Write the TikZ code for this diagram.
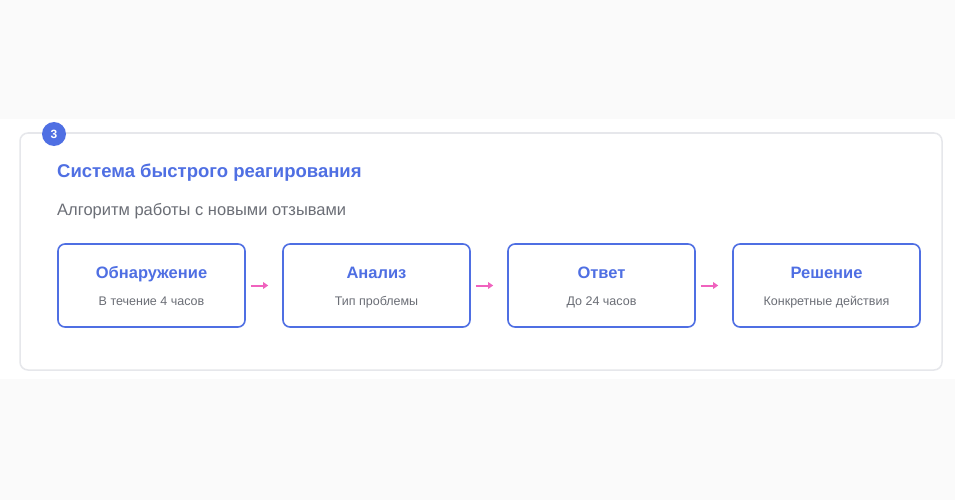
\documentclass[tikz,border=0pt]{standalone}
\usepackage{fontspec}
\setmainfont{Liberation Sans}
\usepackage{tikz}
\usetikzlibrary{positioning}
\usetikzlibrary{arrows.meta}
\usepackage{xcolor}
\definecolor{pagegray}{HTML}{FAFAFA}
\definecolor{cardline}{HTML}{E6E7EB}
\definecolor{stepblue}{HTML}{4F6FE3}
\definecolor{textgray}{HTML}{6B6E76}
\definecolor{arrowpink}{HTML}{F062BE}
\tikzset{
  stepbox/.style={draw=stepblue, line width=1.6pt, rounded corners=7pt, fill=white,
    minimum width=187pt, minimum height=83pt, inner sep=0pt},
  steptitle/.style={anchor=base, text=stepblue, font=\fontsize{16.5}{19}\selectfont\bfseries, inner sep=0pt},
  stepnote/.style={anchor=base, text=textgray, font=\fontsize{12.5}{15}\selectfont, inner sep=0pt},
  flow/.style={arrowpink, line width=2pt, -{Triangle[length=5pt,width=6.5pt]}, shorten <=5pt, shorten >=14pt}
}

\begin{document}
\begin{tikzpicture}[x=1pt, y=-1pt]
	    		\fill[pagegray] (0, 0) rectangle (955, 500);
	    		\fill[white] (0, 119) rectangle (955, 379);
	    		\draw[cardline, line width=1.5pt, rounded corners=8pt] (20, 133) rectangle (942, 370);
	    		\node[circle, fill=stepblue, minimum size=24pt, inner sep=0pt, text=white, font=\fontsize{12}{13}\selectfont\bfseries] (badge) at (54, 134) {3};
	    		\node[anchor=base west, inner sep=0pt, text=stepblue, font=\fontsize{18.5}{22}\selectfont\bfseries] (title) at (57, 177) {Система быстрого реагирования};
	    		\node[anchor=base west, inner sep=0pt, text=textgray, font=\fontsize{16.5}{20}\selectfont] (subtitle) at (57, 215) {Алгоритм работы с новыми отзывами};
	    		\foreach \i/\x/\head/\note in {1/151.5/Обнаружение/В течение 4 часов, 2/376.5/Анализ/Тип проблемы, 3/601.5/Ответ/До 24 часов, 4/826.5/Решение/Конкретные действия} {
	    			\node[stepbox] (s\i) at (\x, 285.5) {};
	    			\node[steptitle] (h\i) at ([yshift=7pt]s\i.center) {\head};
	    			\node[stepnote] (n\i) at ([yshift=-19.5pt]s\i.center) {\note};
	    		}
	    		\draw[flow] (s1) -- (s2);
	    		\draw[flow] (s2) -- (s3);
	    		\draw[flow] (s3) -- (s4);
			\end{tikzpicture}
\end{document}
